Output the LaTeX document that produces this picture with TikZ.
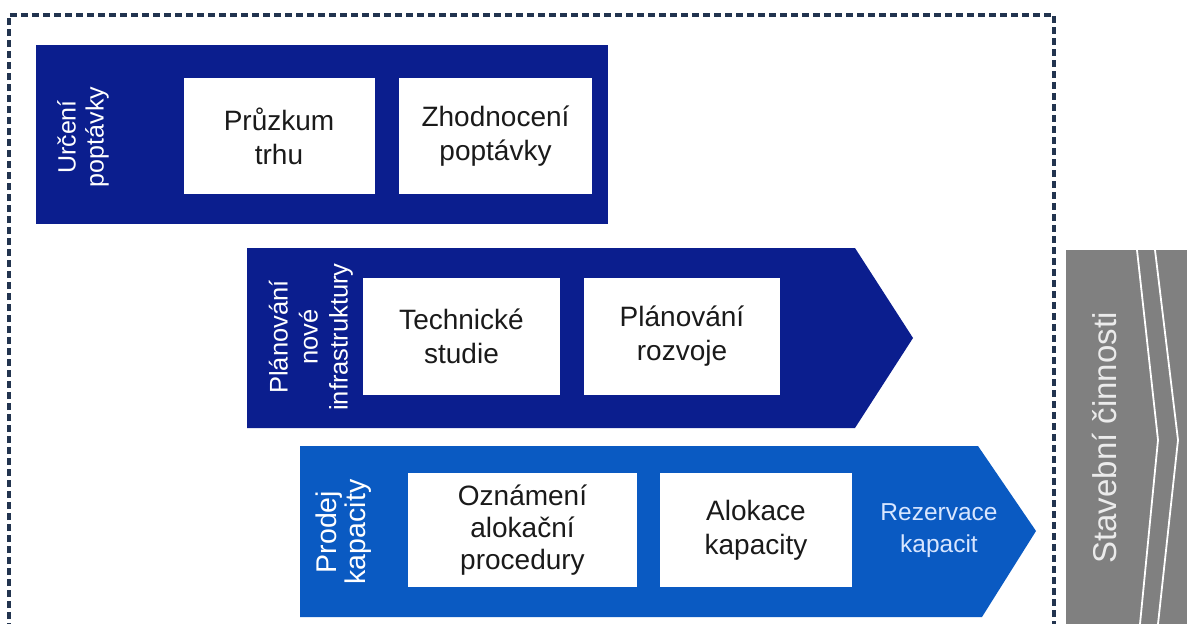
\documentclass[tikz,border=0pt]{standalone}
\usepackage{fontspec}
\setmainfont{Liberation Sans}
\definecolor{navy}{HTML}{0B1E8E}
\definecolor{midblue}{HTML}{0A5AC2}
\definecolor{greyarrow}{HTML}{808080}
\definecolor{frame}{HTML}{22344F}
\definecolor{paleblue}{HTML}{D8E6FF}
\definecolor{boxtext}{HTML}{1A1A1A}
\begin{document}
\begin{tikzpicture}[x=1pt,y=-1pt,
  whitebox/.style={fill=white, draw=none, inner sep=0pt, align=center, text=boxtext,
     font=\fontsize{28}{34}\selectfont},
  sidelabel/.style={rotate=90, text=white, align=center, inner sep=0pt,
     font=\fontsize{25}{28}\selectfont},
]
\useasboundingbox (0,0) rectangle (1187,624);
\fill[white] (0,0) rectangle (1187,624);

% dashed frame (bottom outside view)
\draw[frame, line width=3.4pt, dash pattern=on 7pt off 4pt]
  (9,630) -- (9,15) -- (1054,15) -- (1054,630);

% grey arrow
\fill[greyarrow] (1066,250) -- (1187,250) -- (1187,624) -- (1066,624) -- cycle;
\draw[white, line width=1.8pt] (1137,250) -- (1158,440) -- (1140,624);
\draw[white, line width=1.8pt] (1155,250) -- (1178,440) -- (1158,624);
\node[rotate=90, text=white!92!black, font=\fontsize{33}{36}\selectfont, inner sep=0pt] (stav) at (1105,438) {Stavební činnosti};

% box 1
\fill[navy] (36,45) rectangle (608,224);
\node[sidelabel] (l1) at (83,137) {Určení\\poptávky};
\node[whitebox, minimum width=191pt, minimum height=116pt] (a1) at (279,136) {Průzkum\\trhu};
\node[whitebox, minimum width=193pt, minimum height=116pt] (a2) at (495.5,136) {Zhodnocení\\poptávky};

% box 2
\fill[navy] (247,248) -- (855,248) -- (913,338) -- (855,428) -- (247,428) -- cycle;
\node[sidelabel, font=\fontsize{25.5}{30}\selectfont] (l2) at (311,337) {Plánování\\nové\\infrastruktury};
\node[whitebox, minimum width=197pt, minimum height=117pt] (b1) at (461.5,336.5) {Technické\\studie};
\node[whitebox, minimum width=196pt, minimum height=117pt] (b2) at (682,336.5) {Plánování\\rozvoje};

% box 3
\fill[midblue] (300,446) -- (978,446) -- (1036,531) -- (982,617) -- (300,617) -- cycle;
\node[sidelabel, font=\fontsize{28.5}{29}\selectfont] (l3) at (344,532) {Prodej\\kapacity};
\node[whitebox, minimum width=229pt, minimum height=114pt, font=\fontsize{28}{32}\selectfont] (c1) at (522.5,530) {Oznámení\\alokační\\procedury};
\node[whitebox, minimum width=192pt, minimum height=114pt] (c2) at (756,530) {Alokace\\kapacity};
\node[text=paleblue, align=center, inner sep=0pt, font=\fontsize{24.5}{32}\selectfont] (c3) at (939,531) {Rezervace\\kapacit};
\end{tikzpicture}
\end{document}
